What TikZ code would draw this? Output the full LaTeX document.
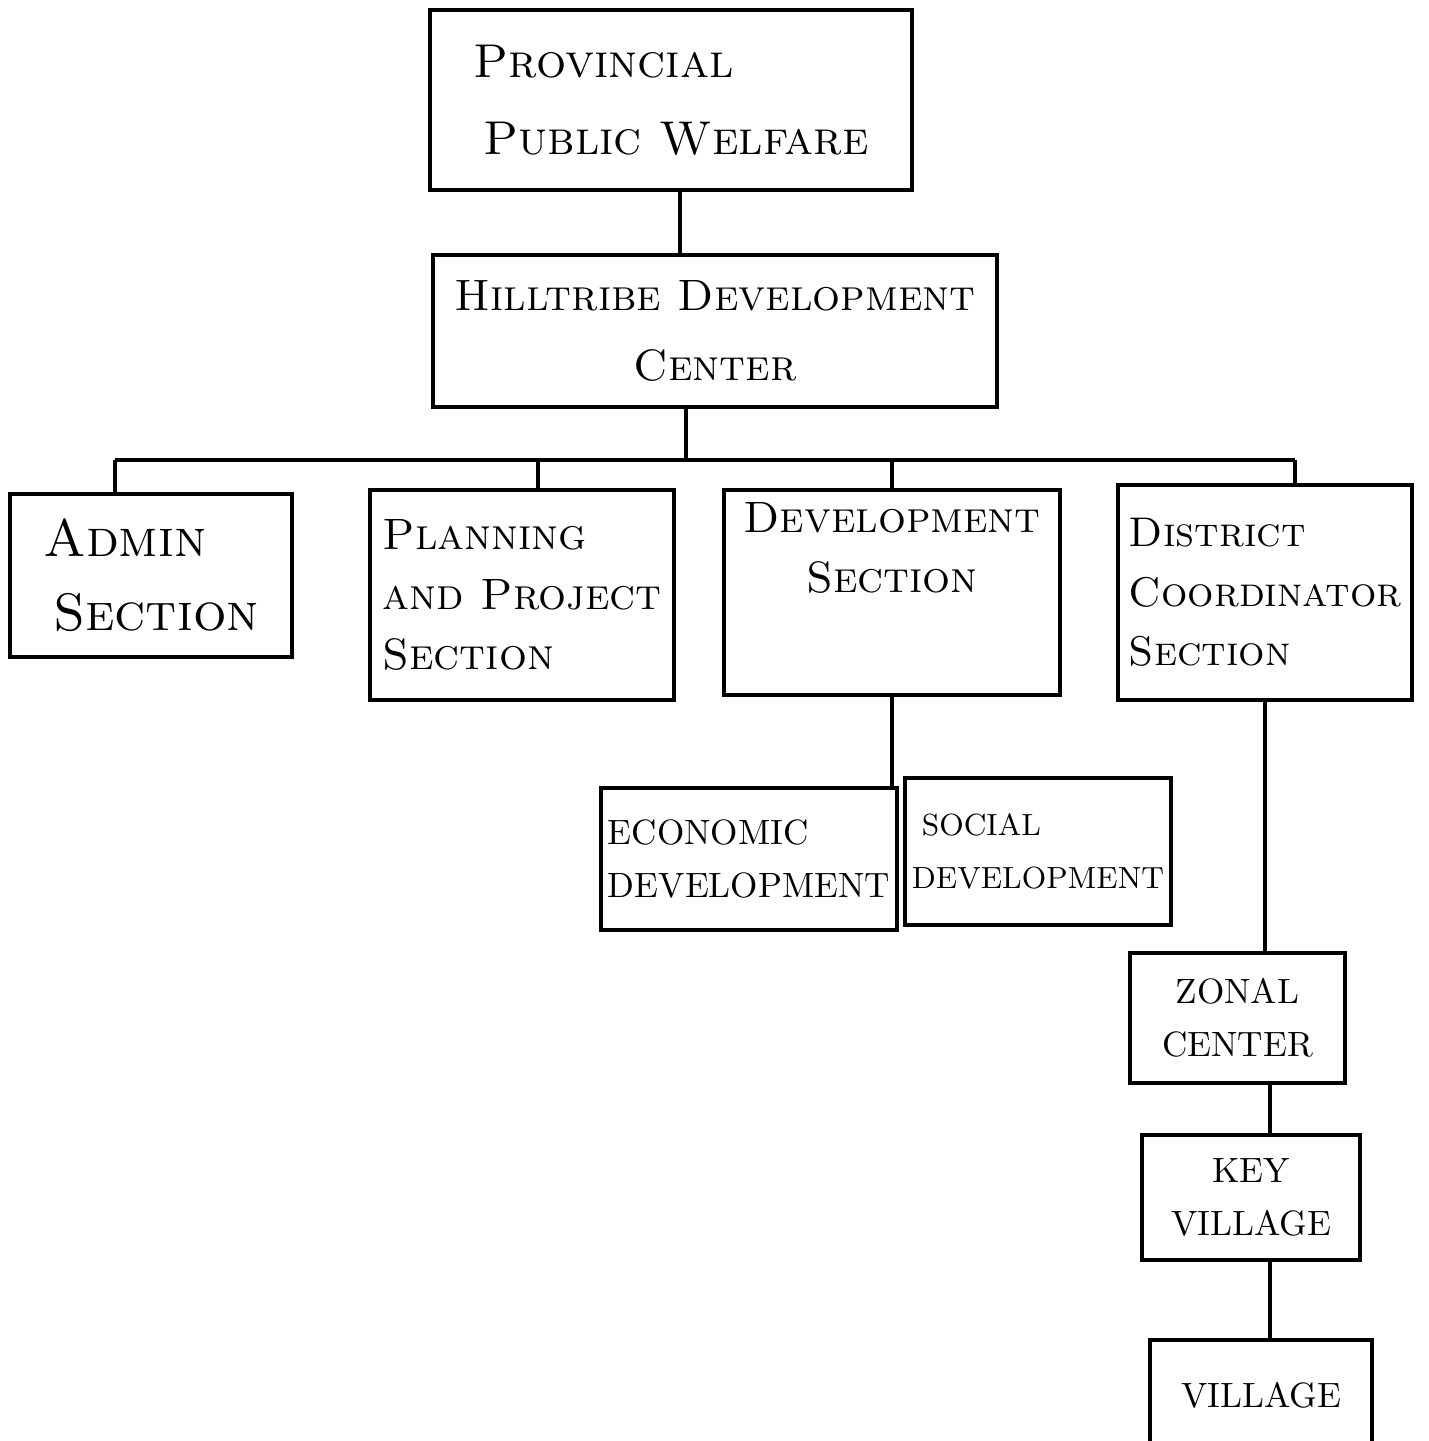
\documentclass[tikz,border=0pt]{standalone}
\usetikzlibrary{positioning}
\tikzset{
  box/.style={draw, line width=1.3pt, inner sep=2pt, font=\scshape\fontsize{13.5}{19}\selectfont},
  smallbox/.style={box, font=\fontsize{10}{15}\selectfont},
  link/.style={line width=1.3pt},
}
\begin{document}
\begin{tikzpicture}
\useasboundingbox (0,0) rectangle (14.28,-14.41);
% top of the chart
\node[box, minimum width=4.82cm, minimum height=1.8cm, align=left, font=\scshape\fontsize{13.5}{22}\selectfont] (prov) at (6.71,-1.0) {Provincial\\ \hspace{0.1cm}Public Welfare};
\node[box, minimum width=5.64cm, minimum height=1.52cm, align=center, font=\scshape\fontsize{12.5}{20}\selectfont] (hill) at (7.15,-3.31) {Hilltribe Development\\ Center};
% the four sections
\node[box, minimum width=2.82cm, minimum height=1.63cm, align=left, font=\scshape\fontsize{15}{21}\selectfont] (admin) at (1.51,-5.755) {Admin\\ \hspace{0.1cm}Section};
\node[box, minimum width=3.04cm, minimum height=2.1cm, align=left, font=\scshape\fontsize{12.5}{17}\selectfont] (plan) at (5.22,-5.95) {Planning\\ and Project\\ Section};
\node[box, minimum width=3.36cm, minimum height=2.05cm, align=center, text depth=0.9cm, font=\scshape\fontsize{12.5}{17}\selectfont] (dev) at (8.92,-5.925) {Development\\ Section};
\node[box, minimum width=2.94cm, minimum height=2.15cm, align=left, font=\scshape\fontsize{11.8}{17}\selectfont] (dist) at (12.65,-5.925) {District\\ Coordinator\\ Section};
% under development section
\node[smallbox, minimum width=2.94cm, minimum height=1.42cm, align=left] (econ) at (7.49,-8.59) {ECONOMIC\\ DEVELOPMENT};
\node[smallbox, minimum width=2.6cm, minimum height=1.47cm, align=left, font=\fontsize{8.7}{15}\selectfont] (social) at (10.38,-8.515) {\hspace{0.1cm}SOCIAL\\ DEVELOPMENT};
% under district coordinator section
\node[smallbox, minimum width=2.15cm, minimum height=1.3cm, align=center] (zonal) at (12.375,-10.18) {ZONAL\\ CENTER};
\node[smallbox, minimum width=2.18cm, minimum height=1.25cm, align=center] (key) at (12.51,-11.975) {KEY\\ VILLAGE};
\node[smallbox, minimum width=2.22cm, minimum height=1.1cm, align=center] (village) at (12.61,-13.95) {VILLAGE};
% connectors
\coordinate (bus) at (6.86,-4.6);
\draw[link] ([xshift=0.09cm]prov.south) -- ([xshift=0.09cm]prov.south |- hill.north);
\draw[link] ([xshift=-0.29cm]hill.south) -- ([xshift=-0.29cm]hill.south |- bus);
\draw[link] ([xshift=-0.36cm]admin.north |- bus) -- ([xshift=0.3cm]dist.north |- bus);
\foreach \n/\dx in {admin/-0.36,plan/0.16,dev/0,dist/0.3} % drops to the sections
  \draw[link] ([xshift=\dx cm]\n.north) -- ([xshift=\dx cm]\n.north |- bus);
\draw[link] (dev.south) -- (dev.south |- econ.north);
\draw[link] (dist.south) -- (dist.south |- zonal.north);
\draw[link] ([xshift=0.19cm]key.north) -- ([xshift=0.19cm]key.north |- zonal.south);
\draw[link] ([xshift=0.19cm]key.south) -- ([xshift=0.19cm]key.south |- village.north);
\end{tikzpicture}
\end{document}
